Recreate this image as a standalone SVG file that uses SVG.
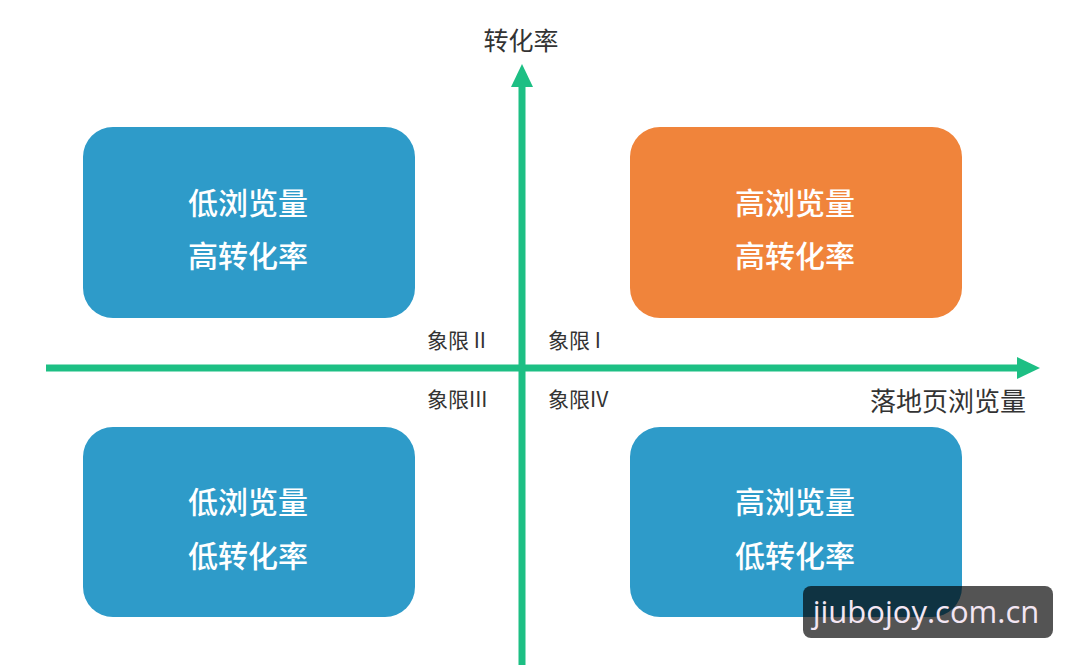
<svg xmlns="http://www.w3.org/2000/svg" width="1080" height="665" viewBox="0 0 1080 665">
  <defs>
    <style>
      .box-blue { fill: #2e9bc9; }
      .box-orange { fill: #f0843b; }
      .box-text { font-family: "Noto Sans CJK SC", "Noto Sans", sans-serif; font-size: 30px; font-weight: 500; fill: #ffffff; text-anchor: middle; dominant-baseline: central; }
      .axis { stroke: #1dbf84; stroke-width: 7; fill: none; }
      .axis-head { fill: #1dbf84; }
      .label { font-family: "Noto Sans CJK SC", "Noto Sans", sans-serif; fill: #333333; dominant-baseline: central; }
      .q { font-size: 21px; }
    </style>
  </defs>
  <rect width="1080" height="665" fill="#ffffff"/>

  <g id="connectors">
    <line class="axis" x1="46" y1="368" x2="1020" y2="368"/>
    <polygon class="axis-head" points="1017,357 1040,368 1017,379"/>
    <line class="axis" x1="522" y1="665" x2="522" y2="84"/>
    <polygon class="axis-head" points="511,87 522,64 533,87"/>
  </g>

  <g id="axis-y-label">
    <text class="label" x="521" y="39" font-size="25" text-anchor="middle">转化率</text>
  </g>
  <g id="axis-x-label">
    <text class="label" x="1026" y="399" font-size="26" text-anchor="end">落地页浏览量</text>
  </g>

  <g id="q1-label"><text class="label q" x="548" y="339">象限 I</text></g>
  <g id="q2-label"><text class="label q" x="427" y="339">象限 II</text></g>
  <g id="q3-label"><text class="label q" x="427" y="398">象限III</text></g>
  <g id="q4-label"><text class="label q" x="548" y="398">象限IV</text></g>

  <g id="node-q2">
    <rect class="box-blue" x="83" y="127" width="332" height="191" rx="30"/>
    <text class="box-text" x="248" y="201">低浏览量</text>
    <text class="box-text" x="248" y="254">高转化率</text>
  </g>
  <g id="node-q1">
    <rect class="box-orange" x="630" y="127" width="332" height="191" rx="30"/>
    <text class="box-text" x="795" y="201">高浏览量</text>
    <text class="box-text" x="795" y="254">高转化率</text>
  </g>
  <g id="node-q3">
    <rect class="box-blue" x="83" y="427" width="332" height="190" rx="30"/>
    <text class="box-text" x="248" y="500">低浏览量</text>
    <text class="box-text" x="248" y="554">低转化率</text>
  </g>
  <g id="node-q4">
    <rect class="box-blue" x="630" y="427" width="332" height="190" rx="30"/>
    <text class="box-text" x="795" y="500">高浏览量</text>
    <text class="box-text" x="795" y="554">低转化率</text>
  </g>

  <g id="watermark">
    <rect x="803" y="586" width="250" height="52" rx="8" fill="#000000" fill-opacity="0.67"/>
    <text x="926" y="611" font-family="Open Sans, sans-serif" font-size="31" fill="#f3e6f3" text-anchor="middle" dominant-baseline="central">jiubojoy.com.cn</text>
  </g>
</svg>
